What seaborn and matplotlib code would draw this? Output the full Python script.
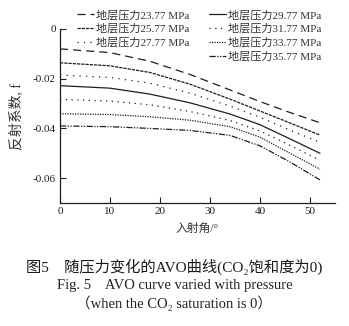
import matplotlib
matplotlib.use("Agg")
import matplotlib.pyplot as plt
import seaborn as sns
import pandas as pd

# Incidence angle (degrees)
angles = [0, 10, 18, 26, 34, 40, 46, 52]

# Reflection coefficient for each formation pressure
r_2377 = [-0.0080, -0.0095, -0.0130, -0.0183, -0.0245, -0.0292, -0.0336, -0.0377]
r_2577 = [-0.0136, -0.0148, -0.0175, -0.0222, -0.0282, -0.0330, -0.0378, -0.0427]
r_2777 = [-0.0185, -0.0195, -0.0218, -0.0258, -0.0310, -0.0355, -0.0407, -0.0456]
r_2977 = [-0.0228, -0.0238, -0.0262, -0.0297, -0.0342, -0.0385, -0.0442, -0.0500]
r_3177 = [-0.0283, -0.0290, -0.0305, -0.0332, -0.0368, -0.0410, -0.0468, -0.0528]
r_3377 = [-0.0341, -0.0344, -0.0353, -0.0367, -0.0393, -0.0435, -0.0500, -0.0564]
r_3577 = [-0.0390, -0.0393, -0.0400, -0.0408, -0.0428, -0.0470, -0.0535, -0.0607]

series_labels = [
    "地层压力23.77 MPa", "地层压力25.77 MPa", "地层压力27.77 MPa",
    "地层压力29.77 MPa", "地层压力31.77 MPa", "地层压力33.77 MPa",
    "地层压力35.77 MPa",
]
series_values = [r_2377, r_2577, r_2777, r_2977, r_3177, r_3377, r_3577]

x_ticks = [0, 10, 20, 30, 40, 50]
y_ticks = [0, -0.02, -0.04, -0.06]
y_tick_labels = ["0", "-0.02", "-0.04", "-0.06"]

x_label = "入射角/°"
y_label = "反射系数, f"
caption_cn = "图5　随压力变化的AVO曲线(CO₂饱和度为0)"
caption_en1 = "Fig. 5    AVO curve varied with pressure"
caption_en2 = "（when the CO₂ saturation is 0）"

rows = []
for lab, vals in zip(series_labels, series_values):
    for a, v in zip(angles, vals):
        rows.append({"angle": a, "R": v, "series": lab})
df = pd.DataFrame(rows)

sns.set_style("ticks")
plt.rcParams["font.family"] = ["Liberation Serif", "Noto Sans CJK SC", "DejaVu Sans"]
plt.rcParams["axes.unicode_minus"] = False

line_dashes = {
    series_labels[0]: (6.5, 4.0),
    series_labels[1]: (2.6, 0.8),
    series_labels[2]: (1.0, 4.2),
    series_labels[3]: "",
    series_labels[4]: (1.0, 3.6),
    series_labels[5]: (1.0, 1.0),
    series_labels[6]: (5.0, 1.2, 1.0, 1.2, 1.0, 1.2),
}

fig = plt.figure(figsize=(3.49, 3.26), dpi=100)
ax = fig.add_axes([60 / 349, 1 - 203 / 326, 275 / 349, 174 / 326])

sns.lineplot(
    data=df, x="angle", y="R", hue="series", style="series",
    hue_order=series_labels, style_order=series_labels,
    palette=["#1e1e1e"] * len(series_labels), dashes=line_dashes,
    linewidth=0.9, legend=False, ax=ax,
)

ax.set_xlim(0, 55)
ax.set_ylim(-0.07, 0)
ax.set_xticks(x_ticks)
ax.set_xticklabels([str(t) for t in x_ticks])
ax.set_yticks(y_ticks)
ax.set_yticklabels(y_tick_labels)
ax.tick_params(direction="in", length=4, width=0.8, labelsize=8, colors="#1e1e1e", pad=3)
for s in ("top", "right"):
    ax.spines[s].set_visible(False)
for s in ("left", "bottom"):
    ax.spines[s].set_linewidth(0.9)
    ax.spines[s].set_color("#1e1e1e")

ax.set_xlabel(x_label, fontsize=8.5, color="#333333", labelpad=5)
ax.set_ylabel(y_label, fontsize=10, color="#333333", labelpad=7)

handles = ax.get_lines()[:len(series_labels)]
leg_kw = dict(frameon=False, fontsize=8, handlelength=1.55, handletextpad=0.2,
              labelspacing=0.3, borderpad=0, borderaxespad=0, loc="upper left",
              bbox_transform=fig.transFigure)
leg1 = fig.legend(handles[:3], series_labels[:3], bbox_to_anchor=(77 / 349, 1 - 10 / 326), **leg_kw)
leg2 = fig.legend(handles[3:], series_labels[3:], bbox_to_anchor=(209 / 349, 1 - 10 / 326), **leg_kw)
for leg in (leg1, leg2):
    for t in leg.get_texts():
        t.set_color("#333333")

fig.text(0.5, 1 - 267 / 326, caption_cn, ha="center", va="center", fontsize=11,
         color="#1a1a1a")
fig.text(0.5, 1 - 285 / 326, caption_en1, ha="center", va="center", fontsize=10.5,
         color="#222222")
fig.text(0.5, 1 - 303 / 326, caption_en2, ha="center", va="center", fontsize=10.5,
         color="#222222")

fig.savefig("out.png", dpi=100)
